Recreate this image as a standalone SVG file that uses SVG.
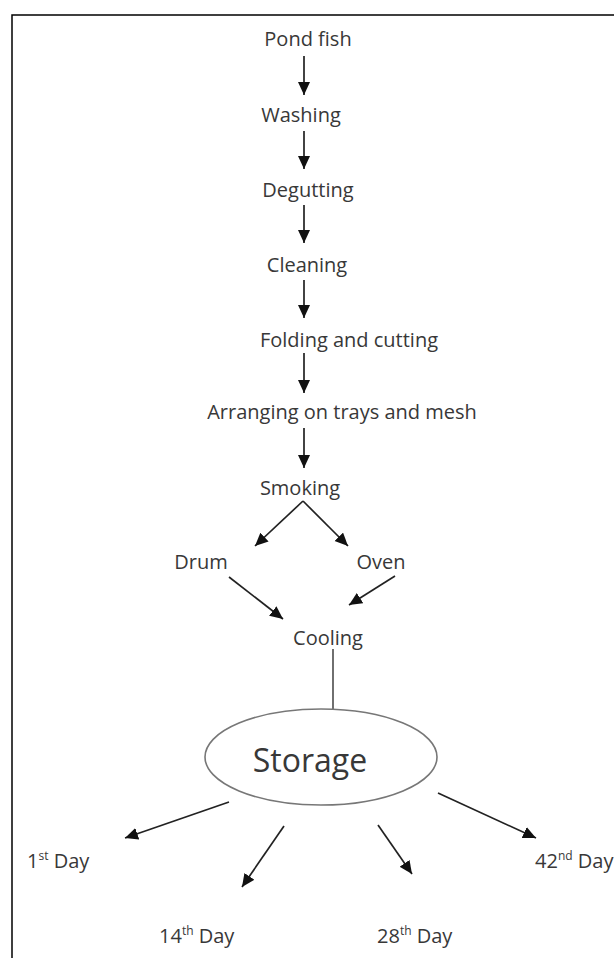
<svg xmlns="http://www.w3.org/2000/svg" width="614" height="958" viewBox="0 0 614 958">
  <defs>
    <marker id="ah" markerUnits="userSpaceOnUse" markerWidth="14" markerHeight="13" refX="13" refY="6" orient="auto">
      <path d="M0,0 L13,6 L0,12 Z" fill="#111"/>
    </marker>
    <style>
      .lbl { font-family: "Open Sans", "Liberation Sans", sans-serif; font-size: 20px; fill: #383838; }
      .c { text-anchor: middle; }
      .sup { font-size: 12px; }
      .arr { stroke: #222; stroke-width: 1.7; fill: none; marker-end: url(#ah); }
      .ln { stroke: #333; stroke-width: 1.4; fill: none; }
    </style>
  </defs>
  <rect width="614" height="958" fill="#fff"/>
  <path d="M12,958 V15 H614" fill="none" stroke="#000" stroke-width="1.5"/>

  <g id="connectors">
    <line class="arr" x1="304" y1="56" x2="304" y2="95"/>
    <line class="arr" x1="304" y1="131" x2="304" y2="169"/>
    <line class="arr" x1="304" y1="205" x2="304" y2="243"/>
    <line class="arr" x1="304" y1="280" x2="304" y2="318"/>
    <line class="arr" x1="304" y1="353" x2="304" y2="393"/>
    <line class="arr" x1="304" y1="428" x2="304" y2="468"/>
    <line class="arr" x1="303" y1="501" x2="255" y2="546"/>
    <line class="arr" x1="303" y1="501" x2="348" y2="546"/>
    <line class="arr" x1="229" y1="577" x2="283" y2="619"/>
    <line class="arr" x1="395" y1="576" x2="349" y2="605"/>
    <line class="ln" x1="333" y1="649" x2="333" y2="709"/>
    <line class="arr" x1="229" y1="802" x2="125" y2="838"/>
    <line class="arr" x1="284" y1="826" x2="242" y2="887"/>
    <line class="arr" x1="378" y1="825" x2="412" y2="874"/>
    <line class="arr" x1="438" y1="793" x2="536" y2="838"/>
  </g>

  <g id="pond-fish"><text class="lbl c" x="308" y="46">Pond fish</text></g>
  <g id="washing"><text class="lbl c" x="301" y="122">Washing</text></g>
  <g id="degutting"><text class="lbl c" x="308" y="197">Degutting</text></g>
  <g id="cleaning"><text class="lbl c" x="307" y="272">Cleaning</text></g>
  <g id="folding"><text class="lbl c" x="349" y="347">Folding and cutting</text></g>
  <g id="arranging"><text class="lbl c" x="342" y="419">Arranging on trays and mesh</text></g>
  <g id="smoking"><text class="lbl c" x="300" y="495">Smoking</text></g>
  <g id="drum"><text class="lbl c" x="201" y="569">Drum</text></g>
  <g id="oven"><text class="lbl c" x="381" y="569">Oven</text></g>
  <g id="cooling"><text class="lbl c" x="328" y="645">Cooling</text></g>
  <g id="storage">
    <ellipse cx="321" cy="757" rx="116" ry="48" fill="#fff" stroke="#777" stroke-width="1.6"/>
    <text class="lbl c" x="310" y="772" style="font-size:32px">Storage</text>
  </g>
  <g id="day1"><text class="lbl" x="27" y="868">1<tspan class="sup" dy="-8">st</tspan><tspan dy="8"> Day</tspan></text></g>
  <g id="day14"><text class="lbl" x="159" y="943">14<tspan class="sup" dy="-8">th</tspan><tspan dy="8"> Day</tspan></text></g>
  <g id="day28"><text class="lbl" x="377" y="943">28<tspan class="sup" dy="-8">th</tspan><tspan dy="8"> Day</tspan></text></g>
  <g id="day42"><text class="lbl" x="535" y="868">42<tspan class="sup" dy="-8">nd</tspan><tspan dy="8"> Day</tspan></text></g>
</svg>
